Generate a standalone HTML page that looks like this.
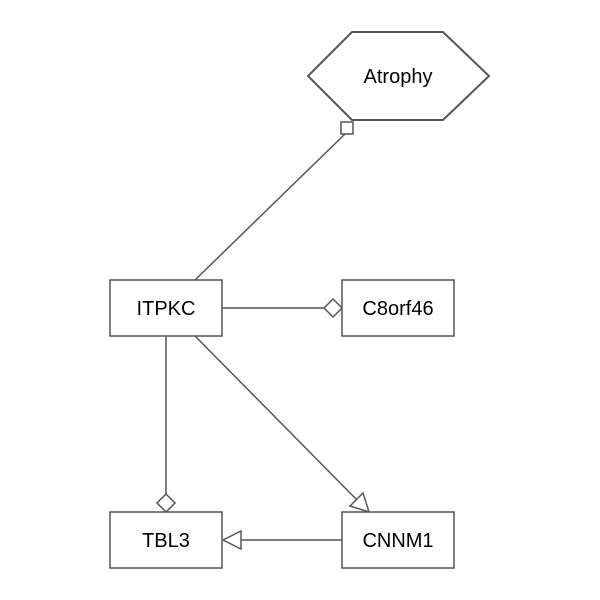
<!DOCTYPE html>
<html><head><style>body{margin:0;background:#fff}svg{display:block}text{font-family:"Liberation Sans",sans-serif;font-size:20px;fill:#000}</style></head><body>
<svg width="600" height="600" viewBox="0 0 600 600">
<g stroke="#555" stroke-width="1.5" fill="#fff">
<polygon points="308,76 352,32 443,32 489,76 443,120 352,120" stroke-width="2"/>
<line x1="345" y1="134" x2="195" y2="280"/>
<rect x="341" y="122" width="12" height="12"/>
<line x1="222" y1="308" x2="324" y2="308"/>
<polygon points="324,308 333,299 342,308 333,317"/>
<line x1="166" y1="336" x2="166" y2="494"/>
<polygon points="166,494 175,503 166,512 157,503"/>
<line x1="195" y1="336" x2="357" y2="500"/>
<polygon points="369,512 350,506 363,493"/>
<line x1="241" y1="540" x2="342" y2="540"/>
<polygon points="223,540 241,531 241,549"/>
<rect x="110" y="280" width="112" height="56"/>
<rect x="342" y="280" width="112" height="56"/>
<rect x="110" y="512" width="112" height="56"/>
<rect x="342" y="512" width="112" height="56"/>
</g>
<g text-anchor="middle">
<text x="398" y="83">Atrophy</text>
<text x="166" y="315">ITPKC</text>
<text x="398" y="315">C8orf46</text>
<text x="166" y="547">TBL3</text>
<text x="398" y="547">CNNM1</text>
</g>
</svg>
</body></html>
